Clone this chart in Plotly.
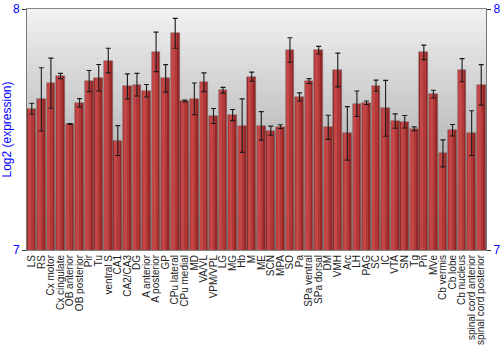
import plotly.graph_objects as go

categories = ["LS", "RS", "Cx motor", "Cx cingulate", "OB anterior", "OB posterior", "Pir", "Tu",
              "ventral S", "CA1", "CA2/CA3", "DG", "A anterior", "A posterior", "GP", "CPu lateral",
              "CPu medial", "MD", "VA/VL", "VPM/VPL", "LG", "MG", "Hb", "M", "ME", "SCN", "MPA",
              "SO", "Pa", "SPa ventral", "SPa dorsal", "DM", "VMH", "Arc", "LH", "PAG", "SC", "IC",
              "VTA", "SN", "Tg", "Pn", "MVe", "Cb vermis", "Cb lobe", "Cb nucleus",
              "spinal cord anterior", "spinal cord posterior"]

values = [7.586, 7.625, 7.692, 7.722, 7.523, 7.611, 7.701, 7.715,
          7.786, 7.454, 7.679, 7.686, 7.661, 7.822, 7.712, 7.899,
          7.618, 7.627, 7.696, 7.556, 7.663, 7.560, 7.516, 7.719, 7.515, 7.495, 7.512,
          7.830, 7.635, 7.701, 7.829, 7.509, 7.747, 7.484, 7.607, 7.611, 7.682, 7.588,
          7.535, 7.532, 7.503, 7.820, 7.647, 7.401, 7.497, 7.746,
          7.485, 7.685]

errors = [0.023, 0.131, 0.104, 0.011, 0.002, 0.017, 0.044, 0.055,
          0.051, 0.062, 0.052, 0.047, 0.026, 0.082, 0.057, 0.062,
          0.004, 0.066, 0.039, 0.031, 0.012, 0.023, 0.111, 0.019, 0.059, 0.019, 0.008,
          0.051, 0.017, 0.010, 0.016, 0.050, 0.070, 0.111, 0.053, 0.007, 0.023, 0.116,
          0.030, 0.026, 0.008, 0.030, 0.016, 0.056, 0.024, 0.048,
          0.093, 0.084]

y_range = [7, 8]
y_ticks = [7, 8]

fig = go.Figure()

# base (dark) bars
fig.add_trace(go.Bar(x=categories, y=values, width=0.92,
                     marker=dict(color="#962828", line=dict(color="rgba(110,110,110,0.7)", width=0.6)),
                     hoverinfo="skip", showlegend=False))
# lighter bands for a horizontal gradient look
fig.add_trace(go.Bar(x=categories, y=values, width=0.62, offset=-0.44,
                     marker=dict(color="#b03838", line=dict(width=0)),
                     hoverinfo="skip", showlegend=False))
fig.add_trace(go.Bar(x=categories, y=values, width=0.34, offset=-0.40,
                     marker=dict(color="#c34646", line=dict(width=0)),
                     hoverinfo="skip", showlegend=False))
# error bars
fig.add_trace(go.Scatter(x=categories, y=values, mode="markers",
                         marker=dict(size=0.1, color="rgba(0,0,0,0)"),
                         error_y=dict(type="data", array=errors, color="#1a1a1a",
                                      thickness=1.1, width=2.5),
                         yaxis="y2", showlegend=False, hoverinfo="skip"))

# vertical background gradient
shapes = []
n = 60
for i in range(n):
    t0 = i / n
    t1 = (i + 1) / n
    g = int(round(242 - 100 * ((t0 + t1) / 2)))
    shapes.append(dict(type="rect", xref="paper", yref="paper", x0=0, x1=1,
                       y0=1 - t1, y1=1 - t0, layer="below",
                       fillcolor=f"rgb({g},{g},{g})", line=dict(width=0)))

fig.update_layout(
    width=500, height=350,
    margin=dict(l=27, r=14, t=9, b=100),
    paper_bgcolor="white", plot_bgcolor="#d0d0d0",
    barmode="overlay", bargap=0,
    shapes=shapes,
    font=dict(family="Liberation Sans, Arial, sans-serif"),
    xaxis=dict(type="category", tickangle=-90, tickfont=dict(size=10, color="#222"),
               tickmode="linear", dtick=1, tick0=0, automargin=False,
               showgrid=False, ticks="", showline=True, linecolor="#888", mirror=True,
               ticklen=0, range=[-0.5, len(categories) - 0.5]),
    yaxis=dict(range=y_range, tickvals=y_ticks, ticktext=[str(v) for v in y_ticks],
               showgrid=False, zeroline=False, showline=True, linecolor="#777",
               ticks="outside", ticklen=4, tickcolor="#333", automargin=False,
               tickfont=dict(size=12, color="#0000ff"),
               title=dict(text="Log2 (expression)", font=dict(size=12, color="#0000ff"), standoff=6)),
    yaxis2=dict(range=y_range, tickvals=y_ticks, overlaying="y", side="right",
                showgrid=False, zeroline=False, showline=True, linecolor="#777",
                ticks="outside", ticklen=4, tickcolor="#333", automargin=False,
                tickfont=dict(size=12, color="#0000ff")),
)

fig.write_html("out.html")
